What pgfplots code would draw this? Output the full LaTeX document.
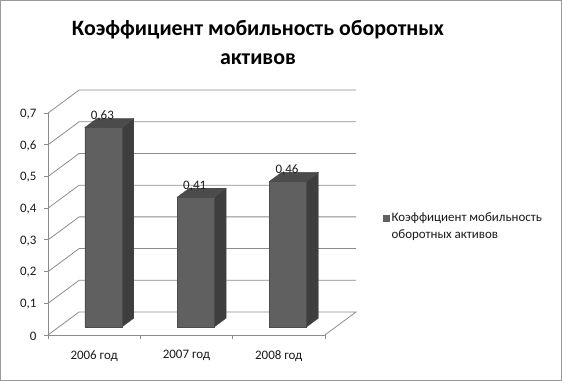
\documentclass[border=0pt]{standalone}
\usepackage{fontspec}
\setmainfont{Carlito}
\usepackage{pgfplots}
\pgfplotsset{compat=1.18}
\definecolor{barfront}{HTML}{606060}
\definecolor{barside}{HTML}{3E3E3E}
\definecolor{bartop}{HTML}{4B4B4B}
\definecolor{gridc}{HTML}{8C8C8C}
\definecolor{txt}{HTML}{1A1A1A}
\begin{document}
\begin{tikzpicture}
\begin{axis}[
  x=92.3bp, y=317bp,
  xmin=-0.5, xmax=2.837, ymin=0, ymax=0.7726,
  enlargelimits=false, clip=false,
  axis line style={draw=none},
  tick align=outside,
  tick pos=left,
  xtick={-0.5,0.5,1.5,2.5}, xticklabels={},
  extra x ticks={0,1,2},
  extra x tick labels={2006 год,2007 год,2008 год},
  extra x tick style={major tick length=0pt},
  ytick={0,0.1,0.2,0.3,0.4,0.5,0.6,0.7},
  major tick length=4bp,
  tick style={draw=gridc, line width=0.8bp},
  ticklabel style={font=\fontsize{13}{15}\selectfont, text=txt},
  yticklabel style={/pgf/number format/fixed, /pgf/number format/precision=1,
    /pgf/number format/use comma, /pgf/number format/assume math mode=true, xshift=-4bp, yshift=-1bp},
  xticklabel style={yshift=-12bp},
  legend style={at={(axis cs:3.09,0.342)}, anchor=west, draw=none, fill=none,
    font=\fontsize{13}{17}\selectfont, text=txt, cells={align=left},
    legend cell align=left},
  legend image code/.code={\draw[draw=none, fill=barfront] (0bp,-3.5bp) rectangle (7bp,3.5bp);},
]
% walls: left wall diagonals + back wall gridlines
\addplot[gridc, line width=0.8bp, forget plot] coordinates {(-0.5,0) (-0.163,0.0726) (2.837,0.0726) (2.5,0)};
\addplot[gridc, line width=0.8bp, forget plot] coordinates {(-0.5,0.1) (-0.163,0.1726) (2.837,0.1726)};
\addplot[gridc, line width=0.8bp, forget plot] coordinates {(-0.5,0.2) (-0.163,0.2726) (2.837,0.2726)};
\addplot[gridc, line width=0.8bp, forget plot] coordinates {(-0.5,0.3) (-0.163,0.3726) (2.837,0.3726)};
\addplot[gridc, line width=0.8bp, forget plot] coordinates {(-0.5,0.4) (-0.163,0.4726) (2.837,0.4726)};
\addplot[gridc, line width=0.8bp, forget plot] coordinates {(-0.5,0.5) (-0.163,0.5726) (2.837,0.5726)};
\addplot[gridc, line width=0.8bp, forget plot] coordinates {(-0.5,0.6) (-0.163,0.6726) (2.837,0.6726)};
\addplot[gridc, line width=0.8bp, forget plot] coordinates {(-0.5,0.7) (-0.163,0.7726) (2.837,0.7726)};
% front axis lines
\addplot[gridc, line width=0.8bp, forget plot] coordinates {(-0.5,0.7) (-0.5,0) (2.5,0)};
% bar side faces
\addplot[fill=barside, draw=black!70, line width=0.3bp, forget plot] coordinates {(0.3,0.025) (0.43,0.053) (0.43,0.683) (0.3,0.655)} -- cycle;
\addplot[fill=barside, draw=black!70, line width=0.3bp, forget plot] coordinates {(1.3,0.025) (1.43,0.053) (1.43,0.463) (1.3,0.435)} -- cycle;
\addplot[fill=barside, draw=black!70, line width=0.3bp, forget plot] coordinates {(2.3,0.025) (2.43,0.053) (2.43,0.513) (2.3,0.485)} -- cycle;
% bar top faces
\addplot[fill=bartop, draw=black!70, line width=0.3bp, forget plot] coordinates {(-0.1,0.655) (0.3,0.655) (0.43,0.683) (0.03,0.683)} -- cycle;
\addplot[fill=bartop, draw=black!70, line width=0.3bp, forget plot] coordinates {(0.9,0.435) (1.3,0.435) (1.43,0.463) (1.03,0.463)} -- cycle;
\addplot[fill=bartop, draw=black!70, line width=0.3bp, forget plot] coordinates {(1.9,0.485) (2.3,0.485) (2.43,0.513) (2.03,0.513)} -- cycle;
% bar front faces with values
\addplot[ybar, bar width=0.4, bar shift=0pt, fill=barfront, draw=black!70, line width=0.3bp,
  yshift=7.9bp,
  nodes near coords,
  nodes near coords style={anchor=base, inner sep=0bp, xshift=-1bp, yshift=8bp,
    font=\fontsize{13}{15}\selectfont, text=txt,
    /pgf/number format/fixed, /pgf/number format/precision=2,
    /pgf/number format/use comma, /pgf/number format/assume math mode=true}]
  coordinates {(0.1,0.63) (1.1,0.41) (2.1,0.46)};
\addlegendentry{Коэффициент мобильность\\оборотных активов}
\coordinate (O) at (axis cs:-0.5,0);
\end{axis}
\node[font=\bfseries\fontsize{22}{29}\selectfont, align=center, text=black] at ([shift={(210bp,292.5bp)}]O) {Коэффициент мобильность оборотных\\активов};
\draw[draw=gray!80, line width=1bp] ([shift={(-47.5bp,-45.5bp)}]O) rectangle ([shift={(513.5bp,334.5bp)}]O);
\pgfresetboundingbox
\path ([shift={(-48bp,-46bp)}]O) rectangle ([shift={(514bp,335bp)}]O);
\end{tikzpicture}
\end{document}
